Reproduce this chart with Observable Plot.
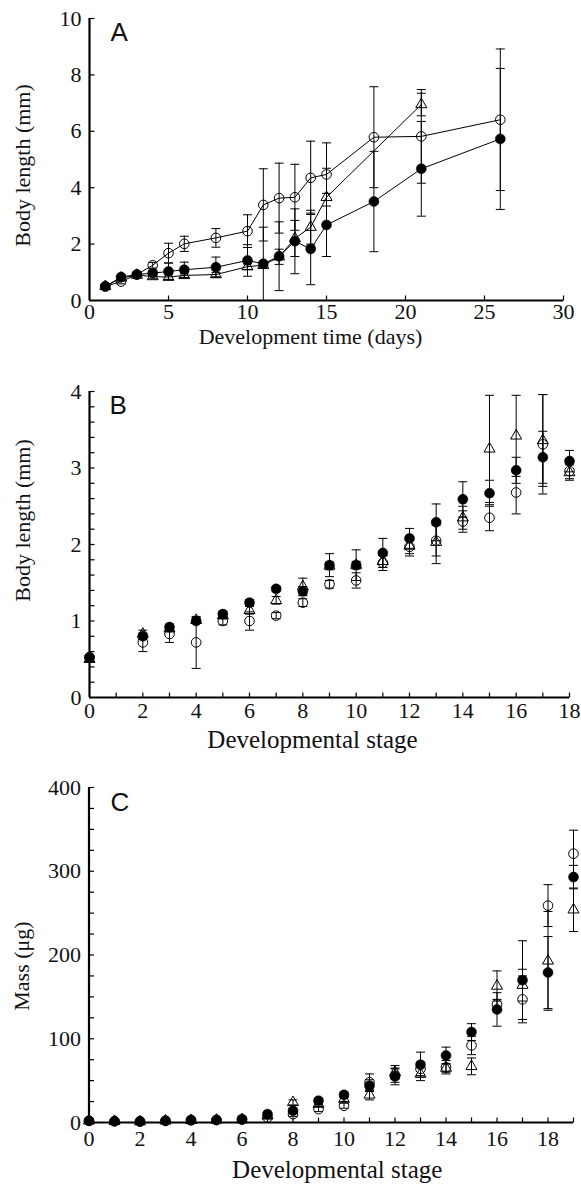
<!DOCTYPE html>
<html>
<head>
<meta charset="utf-8">
<script src="https://cdn.jsdelivr.net/npm/d3@7"></script>
<script src="https://cdn.jsdelivr.net/npm/@observablehq/plot@0.6"></script>
<style>
  html, body { margin: 0; padding: 0; background: #fff; }
  #chart svg { display: block; }
</style>
</head>
<body>
<div id="chart"></div>
<script>
// ---------- Panel A: body length vs development time ----------
const daysA = [1, 2, 3, 4, 5, 6, 8, 10, 11, 12, 13, 14, 15, 18, 21, 26];
const openA = [0.50, 0.67, 0.92, 1.25, 1.68, 2.01, 2.22, 2.46, 3.39, 3.63, 3.66, 4.35, 4.47, 5.79, 5.82, 6.41];
const openSdA = [0.05, 0.08, 0.08, 0.10, 0.35, 0.27, 0.33, 0.58, 1.28, 1.24, 1.17, 1.30, 1.12, 1.79, 1.66, 2.51];
const filledA = [0.50, 0.83, 0.92, 0.97, 1.03, 1.09, 1.18, 1.42, 1.30, 1.57, 2.10, 1.83, 2.68, 3.51, 4.67, 5.73];
const filledSdA = [0.05, 0.07, 0.07, 0.10, 0.30, 0.27, 0.36, 0.56, 1.30, 1.22, 1.15, 1.27, 1.12, 1.78, 1.68, 2.50];
const triDaysA = [1, 2, 3, 4, 5, 6, 8, 10, 11, 12, 13, 14, 15, 21];
const triA = [0.50, 0.80, 0.90, 0.85, 0.83, 0.89, 0.92, 1.20, 1.25, 1.55, 2.20, 2.60, 3.66, 6.95];
const triSdA = [0.05, 0.05, 0.05, 0.08, 0.08, 0.08, 0.08, 0.10, 0.10, 0.27, 0.64, 0.60, 1.03, 0.40];

// ---------- Panel B: body length vs developmental stage ----------
const stagesB = [0, 2, 3, 4, 5, 6, 7, 8, 9, 10, 11, 12, 13, 14, 15, 16, 17, 18];
const filledB = [0.52, 0.80, 0.92, 1.00, 1.09, 1.24, 1.42, 1.39, 1.73, 1.73, 1.89, 2.08, 2.29, 2.59, 2.67, 2.97, 3.14, 3.09];
const filledSdB = [0.03, 0.04, 0.04, 0.03, 0.04, 0.04, 0.03, 0.06, 0.15, 0.20, 0.19, 0.13, 0.24, 0.23, 0.17, 0.17, 0.34, 0.14];
const openB = [0.53, 0.72, 0.83, 0.72, 1.00, 1.00, 1.07, 1.24, 1.48, 1.53, 1.76, 1.97, 2.05, 2.30, 2.35, 2.68, 3.31, 2.96];
const openSdB = [0.03, 0.12, 0.11, 0.34, 0.05, 0.12, 0.04, 0.05, 0.05, 0.10, 0.10, 0.12, 0.20, 0.14, 0.17, 0.28, 0.65, 0.10];
const triB = [0.50, 0.83, 0.90, 1.01, 1.07, 1.14, 1.27, 1.45, 1.72, 1.73, 1.78, 1.98, 2.03, 2.35, 3.25, 3.42, 3.36, 2.94];
const triSdB = [0.03, 0.05, 0.04, 0.04, 0.04, 0.05, 0.05, 0.11, 0.05, 0.05, 0.08, 0.10, 0.28, 0.15, 0.70, 0.53, 0.60, 0.10];

// ---------- Panel C: mass vs developmental stage ----------
const stagesC = [0, 1, 2, 3, 4, 5, 6, 7, 8, 9, 10, 11, 12, 13, 14, 15, 16, 17, 18, 19];
const filledC = [2, 1.5, 1.5, 2, 3, 3, 4, 10, 14, 26, 33, 44, 55, 69, 80, 108, 135, 170, 179, 293];
const filledSdC = [0.5, 0.5, 0.5, 0.5, 0.5, 0.5, 0.8, 1.5, 2.5, 3, 3, 7, 10, 15, 10, 10, 20, 47, 43, 14];
const openC = [2, 1.5, 1, 2, 2.5, 3, 3.5, 6, 10, 16, 20, 48, 56, 64, 66, 92, 141, 147, 259, 321];
const openSdC = [0.5, 0.5, 0.5, 0.5, 0.5, 0.5, 0.8, 1.5, 3, 3, 3, 10, 8, 8, 8, 11, 6, 28, 25, 28];
const triC = [2, 1.5, 1, 2, 2.5, 3, 3.5, 8, 24, 22, 28, 33, 60, 58, 65, 67, 163, 164, 193, 254];
const triSdC = [0.5, 0.5, 0.5, 0.5, 0.5, 0.5, 0.8, 1.5, 3, 3, 3, 6, 8, 8, 5, 10, 18, 19, 59, 26];

// ---------- helpers ----------
const rows = (xs, vs, sds) => xs.map((x, i) => ({x, v: vs[i], lo: vs[i] - sds[i], hi: vs[i] + sds[i]}));
const sym = (f) => ({draw(c, s) { f(c, Math.sqrt(s / Math.PI)); }});
const capSym = sym((c, r) => { c.moveTo(-r, 0); c.lineTo(r, 0); });
const upTick = sym((c, r) => { c.moveTo(0, 0); c.lineTo(0, -r); });
const rightTick = sym((c, r) => { c.moveTo(0, 0); c.lineTo(r, 0); });

const SERIF = "'Liberation Serif', 'Times New Roman', serif";
const SANS = "'Liberation Sans', Arial, sans-serif";
const FS = 22;

function errorMarks(d) {
  return [
    Plot.ruleX(d, {x: "x", y1: "lo", y2: "hi", stroke: "black", strokeWidth: 1}),
    Plot.dot(d, {x: "x", y: "lo", symbol: capSym, r: 4.5, stroke: "black", fill: "none", strokeWidth: 1}),
    Plot.dot(d, {x: "x", y: "hi", symbol: capSym, r: 4.5, stroke: "black", fill: "none", strokeWidth: 1})
  ];
}

function panel(cfg) {
  const {width = 581, height, margins, xDomain, yDomain, xTicks, xLabels, yTicks, yLabels,
         series, lines, letter, letterPos, xTitle, xTitlePos, yTitle, yTitlePos, xPad, yPad,
         titleSize = FS} = cfg;
  const [mt, mr, mb, ml] = margins;
  const marks = [];
  for (const s of series) marks.push(...errorMarks(s.data));
  if (lines) {
    for (const s of series) marks.push(Plot.line(s.data, {x: "x", y: "v", stroke: "black", strokeWidth: 1}));
  }
  for (const s of series) {
    if (s.kind === "tri") marks.push(Plot.dot(s.data, {x: "x", y: "v", symbol: "triangle", r: 4.1, fill: "none", stroke: "black", strokeWidth: 1}));
    if (s.kind === "open") marks.push(Plot.dot(s.data, {x: "x", y: "v", symbol: "circle", r: 4.8, fill: "none", stroke: "black", strokeWidth: 1}));
  }
  for (const s of series) {
    if (s.kind === "filled") marks.push(Plot.dot(s.data, {x: "x", y: "v", r: 5, fill: "black", stroke: "black", strokeWidth: 0.5}));
  }
  // axis lines
  marks.push(Plot.ruleX([xDomain[0]], {stroke: "black", strokeWidth: 2.2}));
  marks.push(Plot.ruleY([yDomain[0]], {stroke: "black", strokeWidth: 2.2}));
  // inward ticks
  marks.push(Plot.dot(xTicks, {x: d => d, frameAnchor: "bottom", symbol: upTick, r: 5, stroke: "black", strokeWidth: 1.2}));
  marks.push(Plot.dot(yTicks, {y: d => d, frameAnchor: "left", symbol: rightTick, r: 5, stroke: "black", strokeWidth: 1.2}));
  // tick labels
  marks.push(Plot.axisX(xLabels, {tickSize: 0, tickPadding: xPad, label: null, fontSize: FS, fontFamily: SERIF, fill: "#111", tickFormat: d => String(d)}));
  marks.push(Plot.axisY(yLabels, {tickSize: 0, tickPadding: yPad, label: null, fontSize: FS, fontFamily: SERIF, fill: "#111", tickFormat: d => String(d)}));
  // titles
  marks.push(Plot.text([xTitle], {text: d => d, frameAnchor: "bottom", dx: xTitlePos[0], dy: xTitlePos[1], textAnchor: "middle", lineAnchor: "bottom", fontSize: titleSize, fontFamily: SERIF, fill: "#111"}));
  marks.push(Plot.text([yTitle], {text: d => d, frameAnchor: "left", dx: yTitlePos[0], dy: yTitlePos[1], rotate: -90, textAnchor: "middle", lineAnchor: "middle", fontSize: FS, fontFamily: SERIF, fill: "#111"}));
  marks.push(Plot.text([letter], {text: d => d, frameAnchor: "top-left", dx: letterPos[0], dy: letterPos[1], textAnchor: "start", lineAnchor: "bottom", fontSize: 26, fontFamily: SANS, fill: "#111"}));
  return Plot.plot({
    width, height,
    marginTop: mt, marginRight: mr, marginBottom: mb, marginLeft: ml,
    x: {domain: xDomain, type: "linear"},
    y: {domain: yDomain, type: "linear"},
    style: {background: "transparent", fontFamily: SERIF, overflow: "visible"},
    marks
  });
}

const chart = document.getElementById("chart");

chart.appendChild(panel({
  height: 340, margins: [18, 18, 40, 89],
  xDomain: [0, 30], yDomain: [0, 10],
  xTicks: [5, 10, 15, 20, 25, 30], xLabels: [0, 5, 10, 15, 20, 25, 30],
  yTicks: [2, 4, 6, 8, 10], yLabels: [0, 2, 4, 6, 8, 10],
  series: [
    {kind: "tri", data: rows(triDaysA, triA, triSdA)},
    {kind: "open", data: rows(daysA, openA, openSdA)},
    {kind: "filled", data: rows(daysA, filledA, filledSdA)}
  ],
  lines: true,
  letter: "A", letterPos: [21, 22],
  xTitle: "Development time (days)", xTitlePos: [-16, 43],
  yTitle: "Body length (mm)", yTitlePos: [-67, 6],
  xPad: 3, yPad: 8
}));

chart.appendChild(panel({
  height: 400, margins: [51, 12, 43, 89],
  xDomain: [0, 18], yDomain: [0, 4],
  xTicks: d3.range(1, 19), xLabels: [0, 2, 4, 6, 8, 10, 12, 14, 16, 18],
  yTicks: d3.range(1, 21).map(i => +(i * 0.2).toFixed(1)), yLabels: [0, 1, 2, 3, 4],
  series: [
    {kind: "tri", data: rows(stagesB, triB, triSdB)},
    {kind: "open", data: rows(stagesB, openB, openSdB)},
    {kind: "filled", data: rows(stagesB, filledB, filledSdB)}
  ],
  lines: false,
  letter: "B", letterPos: [20, 22],
  xTitle: "Developmental stage", xTitlePos: [-17, 50], titleSize: 25,
  yTitle: "Body length (mm)", yTitlePos: [-67, -24],
  xPad: 5, yPad: 8
}));

chart.appendChild(panel({
  height: 446, margins: [47, 8, 64, 88.5],
  xDomain: [0, 19], yDomain: [0, 400],
  xTicks: d3.range(1, 20), xLabels: [0, 2, 4, 6, 8, 10, 12, 14, 16, 18],
  yTicks: d3.range(1, 17).map(i => i * 25), yLabels: [0, 100, 200, 300, 400],
  series: [
    {kind: "tri", data: rows(stagesC, triC, triSdC)},
    {kind: "open", data: rows(stagesC, openC, openSdC)},
    {kind: "filled", data: rows(stagesC, filledC, filledSdC)}
  ],
  lines: false,
  letter: "C", letterPos: [21.5, 23],
  xTitle: "Developmental stage", xTitlePos: [6, 55], titleSize: 25,
  yTitle: "Mass (μg)", yTitlePos: [-67, 11],
  xPad: 8, yPad: 8
}));
</script>
</body>
</html>
